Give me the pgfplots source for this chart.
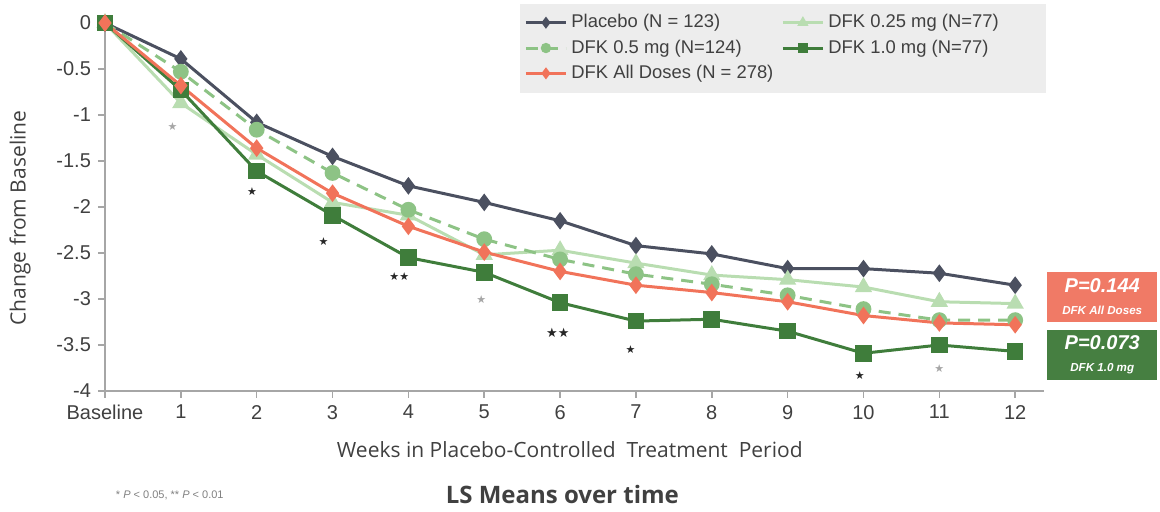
\documentclass[border=0pt]{standalone}
\usepackage{fontspec}
\setmainfont{Liberation Sans}
\newfontfamily\opensans{Open Sans}
\newfontfamily\sym{DejaVu Sans}
\usepackage{pgfplots}
\pgfplotsset{compat=1.18}
\definecolor{cPla}{HTML}{4B5060}
\definecolor{c025}{HTML}{B9DDB1}
\definecolor{c05}{HTML}{8DC385}
\definecolor{c10}{HTML}{3F7D3B}
\definecolor{cAll}{HTML}{F1735A}
\definecolor{boxAll}{HTML}{F07A66}
\definecolor{box10}{HTML}{467F41}
\definecolor{axgrey}{HTML}{A6A6A6}
\definecolor{txt}{HTML}{404040}
\definecolor{leggrey}{HTML}{EDEDED}
\begin{document}
\begin{tikzpicture}
\useasboundingbox (-52.5pt,-60.5pt) rectangle (527.5pt,195.5pt);
\begin{axis}[at={(0,0)}, anchor=south west, scale only axis,
  width=469.5pt, height=184pt,
  xmin=0, xmax=12.38, ymin=-4, ymax=0,
  axis x line*=bottom, axis y line*=left,
  axis line style={axgrey, line width=0.8pt},
  tick style={axgrey, line width=0.8pt}, tick align=outside, major tick length=3.5pt,
  xtick={0,1,2,3,4,5,6,7,8,9,10,11,12},
  xticklabels={Baseline,1,2,3,4,5,6,7,8,9,10,11,12},
  ytick={-4,-3.5,-3,-2.5,-2,-1.5,-1,-0.5,0},
  yticklabels={-4,-3.5,-3,-2.5,-2,-1.5,-1,-0.5,0},
  ticklabel style={font=\fontsize{10}{12}\selectfont, text=txt},
  clip=false,
  legend columns=2,
  legend style={at={(axis description cs:0.442,1.054)}, anchor=north west,
    fill=leggrey, draw=none, font=\fontsize{9.2}{11}\selectfont, text=txt,
    row sep=0.5pt, inner xsep=2pt, inner ysep=3.5pt,
    /tikz/every even column/.append style={column sep=2pt},
    /tikz/every odd column/.append style={column sep=0pt}},
  legend cell align=left,
  legend image code/.code={\draw[mark repeat=2,mark phase=2,#1,mark size=1.8pt]
    plot coordinates {(0pt,0pt) (10pt,0pt) (20pt,0pt)};},
]
\addplot[cPla, line width=1.5pt, mark=diamond*, mark size=3.2pt, mark options={solid}] coordinates {
(0,0) (1,-0.39) (2,-1.08) (3,-1.45) (4,-1.77) (5,-1.95) (6,-2.15) (7,-2.42) (8,-2.51) (9,-2.67) (10,-2.67) (11,-2.72) (12,-2.85)};
\addlegendentry{Placebo (N = 123)}
\addplot[c025, line width=1.5pt, mark=triangle*, mark size=3.5pt, mark options={solid}] coordinates {
(0,0) (1,-0.87) (2,-1.43) (3,-1.95) (4,-2.09) (5,-2.52) (6,-2.47) (7,-2.61) (8,-2.74) (9,-2.79) (10,-2.87) (11,-3.03) (12,-3.05)};
\addlegendentry{\makebox[105pt][l]{DFK 0.25 mg (N=77)}}
\addplot[c05, line width=1.5pt, dash pattern=on 6pt off 4pt, mark=*, mark size=3.2pt, mark options={solid}] coordinates {
(0,0) (1,-0.53) (2,-1.16) (3,-1.63) (4,-2.03) (5,-2.35) (6,-2.57) (7,-2.73) (8,-2.84) (9,-2.96) (10,-3.11) (11,-3.23) (12,-3.23)};
\addlegendentry{DFK 0.5 mg (N=124)}
\addplot[c10, line width=1.5pt, mark=square*, mark size=3.4pt, mark options={solid}] coordinates {
(0,0) (1,-0.73) (2,-1.61) (3,-2.09) (4,-2.55) (5,-2.71) (6,-3.04) (7,-3.24) (8,-3.22) (9,-3.35) (10,-3.59) (11,-3.50) (12,-3.57)};
\addlegendentry{DFK 1.0 mg (N=77)}
\addplot[cAll, line width=1.5pt, mark=diamond*, mark size=3.2pt, mark options={solid}] coordinates {
(0,0) (1,-0.68) (2,-1.36) (3,-1.85) (4,-2.21) (5,-2.49) (6,-2.70) (7,-2.85) (8,-2.93) (9,-3.03) (10,-3.18) (11,-3.26) (12,-3.28)};
\addlegendentry{DFK All Doses (N = 278)}
% significance stars
\node[text=gray!70, font=\sym\fontsize{5.5}{5.5}\selectfont] at (axis cs:0.89,-1.13) {★};
\node[text=black!85, font=\sym\fontsize{5.5}{5.5}\selectfont] at (axis cs:1.94,-1.83) {★};
\node[text=black!85, font=\sym\fontsize{5.5}{5.5}\selectfont] at (axis cs:2.88,-2.38) {★};
\node[text=black!85, font=\sym\fontsize{5.5}{5.5}\selectfont] at (axis cs:3.88,-2.76) {★★};
\node[text=gray!70, font=\sym\fontsize{5.5}{5.5}\selectfont] at (axis cs:4.96,-3.01) {★};
\node[text=black!85, font=\sym\fontsize{6.5}{6.5}\selectfont] at (axis cs:5.97,-3.37) {★★};
\node[text=black!85, font=\sym\fontsize{5.5}{5.5}\selectfont] at (axis cs:6.93,-3.55) {★};
\node[text=black!85, font=\sym\fontsize{5.5}{5.5}\selectfont] at (axis cs:9.95,-3.83) {★};
\node[text=gray!70, font=\sym\fontsize{5.5}{5.5}\selectfont] at (axis cs:11.0,-3.76) {★};
% labels
\node[rotate=90, text=txt, font=\opensans\fontsize{10.5}{12}\selectfont] at (axis description cs:-0.0905,0.470) {Change from Baseline};
\node[text=txt, font=\opensans\fontsize{10.5}{12}\selectfont] at (axis description cs:0.495,-0.160) {Weeks in Placebo-Controlled\ \ Treatment\ \ Period};
\node[text=txt, font=\opensans\bfseries\fontsize{12}{14}\selectfont] at (axis description cs:0.487,-0.280) {LS Means over time};
\node[text=gray, font=\fontsize{5.5}{6}\selectfont] at (axis description cs:0.069,-0.283) {* \textit{P} < 0.05, ** \textit{P} < 0.01};
% p-value boxes
\node[fill=boxAll, minimum width=55pt, minimum height=25pt, inner sep=0pt, text=white, align=center] at (axis description cs:1.062,0.2554)
  {{\bfseries\itshape\fontsize{10}{11}\selectfont P=0.144}\\[-1pt]{\bfseries\itshape\fontsize{5.8}{6.5}\selectfont DFK All Doses}};
\node[fill=box10, minimum width=55pt, minimum height=25pt, inner sep=0pt, text=white, align=center] at (axis description cs:1.062,0.0978)
  {{\bfseries\itshape\fontsize{10}{11}\selectfont P=0.073}\\[-1pt]{\bfseries\itshape\fontsize{5.8}{6.5}\selectfont DFK 1.0 mg}};
\end{axis}
\end{tikzpicture}
\end{document}
